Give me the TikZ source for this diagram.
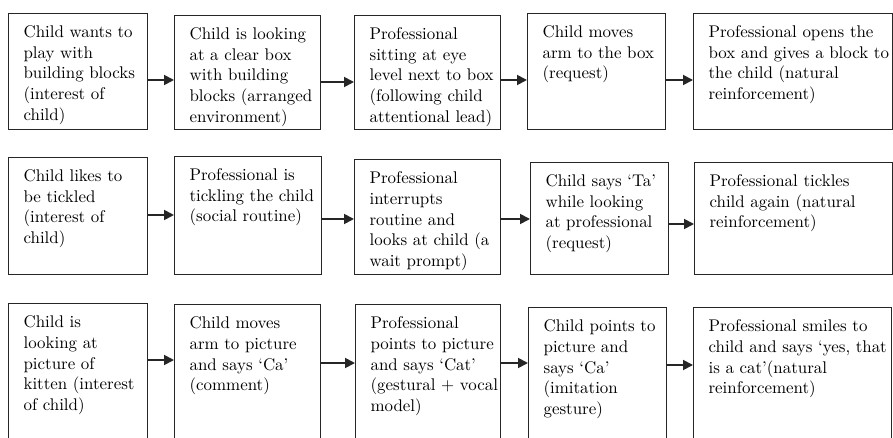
\documentclass[tikz,border=0pt]{standalone}
\usepackage{fontspec}
\newfontfamily\stagefont{lmroman10-regular.otf}
\usepackage{tikz}
\usetikzlibrary{arrows.meta}
\newcommand{\stagetext}[3]{\parbox[c][#2][t]{#1}{\leftskip=15pt\rightskip=-20pt plus 1fil\rule{0pt}{24pt}#3}}
\tikzset{
  stage/.style={draw=black!85, line width=1.2pt, anchor=north west, inner sep=0pt,
    font=\stagefont\fontsize{16.9}{20.7}\selectfont},
  flow/.style={line width=1.8pt, black!85, -{Triangle[length=10pt,width=10pt]}}
}

\begin{document}
\begin{tikzpicture}[x=1pt,y=-1pt]
    \useasboundingbox (0,0) rectangle (893,438);
    % blocks
    \node[stage] (a1) at (8,13)  {\stagetext{139pt}{116pt}{Child wants to\\play with\\building blocks\\(interest of\\child)}};
    \node[stage] (a2) at (174,15) {\stagetext{146pt}{114pt}{Child is looking\\at a clear box\\with building\\blocks (arranged\\environment)}};
    \node[stage] (a3) at (354,15) {\stagetext{146pt}{114pt}{Professional\\sitting at eye\\level next to box\\(following child\\attentional lead)}};
    \node[stage] (a4) at (527,13) {\stagetext{138pt}{116pt}{Child moves\\arm to the box\\(request)}};
    \node[stage] (a5) at (693,13) {\stagetext{199pt}{116pt}{Professional opens the\\box and gives a block to\\the child (natural\\reinforcement)}};
    \draw[flow] ([yshift=-67pt]a1.north east) -- ([yshift=-67pt]a1.north east -| a2.west);
    \draw[flow] ([yshift=-67pt]a2.north east) -- ([yshift=-67pt]a2.north east -| a3.west);
    \draw[flow] ([yshift=-65pt]a3.north east) -- ([yshift=-65pt]a3.north east -| a4.west);
    \draw[flow] ([yshift=-67pt]a4.north east) -- ([yshift=-67pt]a4.north east -| a5.west);
    % tickling
    \node[stage] (b1) at (8,157)  {\stagetext{139pt}{117pt}{Child likes to\\be tickled\\(interest of\\child)}};
    \node[stage] (b2) at (174,156) {\stagetext{147pt}{118pt}{Professional is\\tickling the child\\(social routine)}};
    \node[stage] (b3) at (354,159) {\stagetext{146pt}{115pt}{Professional\\interrupts\\routine and\\looks at child (a\\wait prompt)}};
    \node[stage] (b4) at (530,162) {\stagetext{138pt}{112pt}{Child says ‘Ta’\\while looking\\at professional\\(request)}};
    \node[stage] (b5) at (694,162) {\stagetext{198pt}{112pt}{Professional tickles\\child again (natural\\reinforcement)}};
    \draw[flow] ([yshift=-58pt]b1.north east) -- ([yshift=-58pt]b1.north east -| b2.west);
    \draw[flow] ([yshift=-63pt]b2.north east) -- ([yshift=-63pt]b2.north east -| b3.west);
    \draw[flow] ([yshift=-60pt]b3.north east) -- ([yshift=-60pt]b3.north east -| b4.west);
    \draw[flow] ([yshift=-62pt]b4.north east) -- ([yshift=-62pt]b4.north east -| b5.west);
    % picture
    \node[stage] (c1) at (8,303)  {\stagetext{139pt}{160pt}{Child is\\looking at\\picture of\\kitten (interest\\of child)}};
    \node[stage] (c2) at (174,304) {\stagetext{146pt}{160pt}{Child moves\\arm to picture\\and says ‘Ca’\\(comment)}};
    \node[stage] (c3) at (355,304) {\stagetext{145pt}{160pt}{Professional\\points to picture\\and says ‘Cat’\\(gestural + vocal\\model)}};
    \node[stage] (c4) at (528,307) {\stagetext{138pt}{160pt}{Child points to\\picture and\\says ‘Ca’\\(imitation\\gesture)}};
    \node[stage] (c5) at (693,307) {\stagetext{198pt}{160pt}{Professional smiles to\\child and says ‘yes, that\\is a cat’(natural\\reinforcement)}};
    \draw[flow] ([yshift=-57pt]c1.north east) -- ([yshift=-57pt]c1.north east -| c2.west);
    \draw[flow] ([yshift=-59pt]c2.north east) -- ([yshift=-59pt]c2.north east -| c3.west);
    \draw[flow] ([yshift=-59pt]c3.north east) -- ([yshift=-59pt]c3.north east -| c4.west);
    \draw[flow] ([yshift=-58pt]c4.north east) -- ([yshift=-58pt]c4.north east -| c5.west);
\end{tikzpicture}
\end{document}
